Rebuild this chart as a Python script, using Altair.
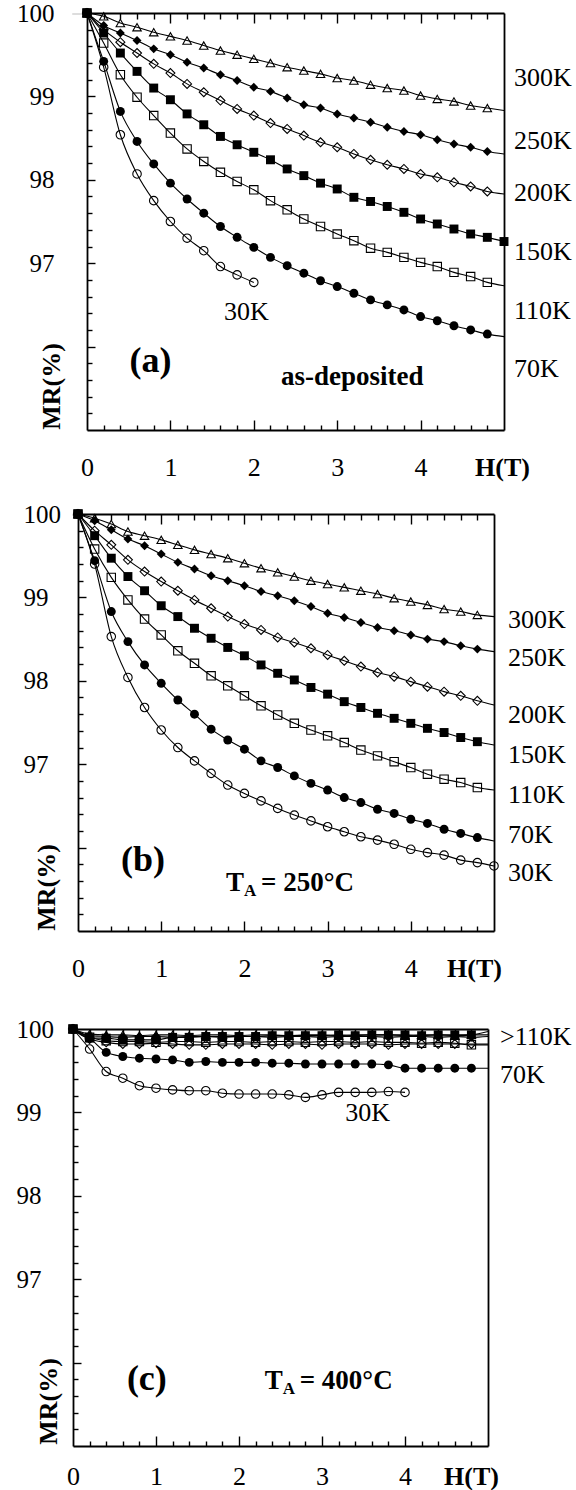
import altair as alt
import pandas as pd

SERIF = "Liberation Serif"

# ---------------- data ----------------
H25 = [0.0, 0.2, 0.4, 0.6, 0.8, 1.0, 1.2, 1.4, 1.6, 1.8, 2.0, 2.2, 2.4,
       2.6, 2.8, 3.0, 3.2, 3.4, 3.6, 3.8, 4.0, 4.2, 4.4, 4.6, 4.8]
H26 = H25 + [5.0]
H11 = H25[:11]
H21 = H25[:21]
H_END = 5.0

SERIES = ["300K", "250K", "200K", "110K", "150K", "70K", "30K"]

# panel (a) as-deposited
A_300 = [100, 99.96, 99.88, 99.83, 99.77, 99.72, 99.67, 99.61, 99.55, 99.50, 99.45, 99.40, 99.35,
         99.31, 99.27, 99.22, 99.19, 99.14, 99.10, 99.07, 99.01, 98.97, 98.94, 98.89, 98.86]
A_250 = [100, 99.85, 99.76, 99.67, 99.57, 99.50, 99.41, 99.34, 99.26, 99.19, 99.11, 99.06, 98.98,
         98.90, 98.86, 98.79, 98.74, 98.69, 98.63, 98.58, 98.54, 98.48, 98.43, 98.39, 98.34]
A_200 = [100, 99.80, 99.65, 99.52, 99.39, 99.28, 99.15, 99.05, 98.95, 98.85, 98.77, 98.68, 98.61,
         98.53, 98.45, 98.39, 98.31, 98.24, 98.18, 98.13, 98.07, 98.03, 97.97, 97.92, 97.86]
A_150 = [100, 99.76, 99.52, 99.30, 99.10, 98.96, 98.79, 98.66, 98.52, 98.42, 98.33, 98.24, 98.13,
         98.05, 97.96, 97.89, 97.79, 97.74, 97.68, 97.61, 97.53, 97.47, 97.41, 97.35, 97.31, 97.26]
A_110 = [100, 99.64, 99.26, 98.99, 98.77, 98.56, 98.37, 98.22, 98.09, 97.98, 97.88, 97.75, 97.64,
         97.53, 97.44, 97.35, 97.27, 97.18, 97.13, 97.07, 97.01, 96.96, 96.89, 96.84, 96.77]
A_70 = [100, 99.42, 98.82, 98.46, 98.19, 97.96, 97.77, 97.60, 97.44, 97.31, 97.19, 97.07, 96.97,
        96.88, 96.79, 96.72, 96.64, 96.56, 96.50, 96.44, 96.36, 96.31, 96.25, 96.20, 96.15]
A_30 = [100, 99.35, 98.54, 98.07, 97.75, 97.50, 97.30, 97.15, 96.96, 96.86, 96.77]
A_ENDS = {"300K": 98.83, "250K": 98.31, "200K": 97.83, "150K": None,
          "110K": 96.73, "70K": 96.12, "30K": None}

# panel (b) T_A = 250 C
B_300 = [100, 99.95, 99.88, 99.79, 99.74, 99.69, 99.63, 99.57, 99.52, 99.47, 99.41, 99.35, 99.30,
         99.25, 99.20, 99.16, 99.12, 99.08, 99.04, 98.99, 98.95, 98.91, 98.86, 98.83, 98.79]
B_250 = [100, 99.92, 99.81, 99.70, 99.62, 99.52, 99.42, 99.34, 99.26, 99.20, 99.14, 99.07, 99.02,
         98.96, 98.89, 98.81, 98.76, 98.70, 98.64, 98.60, 98.55, 98.50, 98.47, 98.42, 98.38]
B_200 = [100, 99.80, 99.63, 99.45, 99.31, 99.19, 99.08, 98.97, 98.87, 98.77, 98.68, 98.61, 98.52,
         98.46, 98.39, 98.31, 98.24, 98.17, 98.10, 98.05, 97.99, 97.93, 97.87, 97.82, 97.76]
B_150 = [100, 99.74, 99.47, 99.25, 99.08, 98.90, 98.77, 98.63, 98.51, 98.40, 98.30, 98.19, 98.09,
         98.01, 97.92, 97.84, 97.75, 97.68, 97.61, 97.55, 97.49, 97.43, 97.38, 97.32, 97.27]
B_110 = [100, 99.58, 99.24, 98.97, 98.74, 98.55, 98.36, 98.21, 98.06, 97.94, 97.82, 97.70, 97.59,
         97.49, 97.41, 97.34, 97.26, 97.17, 97.10, 97.03, 96.96, 96.88, 96.82, 96.78, 96.72]
B_70 = [100, 99.44, 98.83, 98.47, 98.19, 97.97, 97.77, 97.60, 97.42, 97.29, 97.18, 97.04, 96.96,
        96.86, 96.77, 96.69, 96.60, 96.54, 96.46, 96.41, 96.34, 96.29, 96.22, 96.17, 96.12]
B_30 = [100, 99.40, 98.53, 98.04, 97.68, 97.41, 97.20, 97.04, 96.89, 96.75, 96.65, 96.56, 96.47,
        96.39, 96.32, 96.25, 96.19, 96.13, 96.09, 96.04, 95.98, 95.94, 95.91, 95.85, 95.82, 95.78]
B_ENDS = {"300K": 98.77, "250K": 98.35, "200K": 97.71, "150K": 97.23,
          "110K": 96.69, "70K": 96.08, "30K": None}

# panel (c) T_A = 400 C
C_300 = [100, 99.94, 99.93, 99.93, 99.92, 99.93, 99.93, 99.92, 99.93, 99.93, 99.92, 99.93, 99.93,
         99.92, 99.93, 99.93, 99.92, 99.93, 99.93, 99.93, 99.92, 99.93, 99.93, 99.92, 99.93]
C_250 = [100, 99.92, 99.91, 99.90, 99.91, 99.91, 99.90, 99.91, 99.91, 99.90, 99.91, 99.91, 99.90,
         99.91, 99.91, 99.90, 99.91, 99.91, 99.91, 99.90, 99.91, 99.91, 99.90, 99.91, 99.90]
C_200 = [100, 99.88, 99.84, 99.82, 99.82, 99.83, 99.82, 99.81, 99.81, 99.82, 99.82, 99.82, 99.81,
         99.82, 99.82, 99.81, 99.82, 99.82, 99.82, 99.81, 99.82, 99.82, 99.82, 99.82, 99.82]
C_150 = [100, 99.89, 99.89, 99.87, 99.87, 99.87, 99.90, 99.90, 99.91, 99.91, 99.91, 99.91, 99.92,
         99.92, 99.92, 99.92, 99.93, 99.92, 99.93, 99.93, 99.93, 99.92, 99.93, 99.93, 99.93]
C_110 = [100, 99.90, 99.86, 99.85, 99.85, 99.84, 99.85, 99.85, 99.84, 99.85, 99.85, 99.84, 99.85,
         99.85, 99.84, 99.85, 99.85, 99.84, 99.85, 99.84, 99.84, 99.83, 99.84, 99.83, 99.81]
C_70 = [100, 99.89, 99.72, 99.67, 99.65, 99.64, 99.63, 99.60, 99.61, 99.60, 99.60, 99.60, 99.59,
        99.59, 99.58, 99.58, 99.58, 99.58, 99.58, 99.57, 99.53, 99.53, 99.53, 99.53, 99.53]
C_30 = [100, 99.76, 99.49, 99.41, 99.32, 99.29, 99.27, 99.26, 99.26, 99.23, 99.22, 99.22, 99.22,
        99.21, 99.18, 99.21, 99.24, 99.24, 99.24, 99.25, 99.24]
C_ENDS = {"300K": 99.97, "250K": 99.91, "200K": 99.82, "150K": 99.93,
          "110K": 99.81, "70K": 99.53, "30K": None}

# right-hand temperature labels
A_RLAB = ["300K", "250K", "200K", "150K", "110K", "70K"]
A_RLAB_Y = [99.22, 98.47, 97.84, 97.13, 96.43, 95.73]
B_RLAB = ["300K", "250K", "200K", "150K", "110K", "70K", "30K"]
B_RLAB_Y = [98.73, 98.27, 97.59, 97.11, 96.63, 96.15, 95.69]
C_RLAB = [">110K", "70K"]
C_RLAB_Y = [99.91, 99.45]

# in-plot annotations: (text, H, MR)
A_NOTES = [("30K", 1.91, 96.41), ("(a)", 0.76, 95.83), ("as-deposited", 3.18, 95.63)]
B_NOTES = [("(b)", 0.78, 95.85)]
C_NOTES = [("30K", 3.55, 98.99), ("(c)", 0.89, 95.80)]
B_TA = ("250°C", 1.78, 95.57)
C_TA = ("400°C", 2.31, 95.78)

X_LABELS = [0, 1, 2, 3, 4]
Y_LABELS = [97, 98, 99, 100]
X_MINOR = [0.2, 0.4, 0.6, 0.8, 1.2, 1.4, 1.6, 1.8, 2.2, 2.4, 2.6, 2.8,
           3.2, 3.4, 3.6, 3.8, 4.2, 4.4, 4.6, 4.8]
X_MAJOR = [1, 2, 3, 4]
Y_MINOR = [95.2, 95.4, 95.6, 95.8, 96.2, 96.4, 96.6, 96.8, 97.2, 97.4, 97.6, 97.8,
           98.2, 98.4, 98.6, 98.8, 99.2, 99.4, 99.6, 99.8]
Y_MAJOR = [96, 97, 98, 99]

MARKERS = {
    "300K": ("triangle-up", False, 72),
    "250K": ("diamond", True, 80),
    "200K": ("diamond", False, 80),
    "150K": ("square", True, 80),
    "110K": ("square", False, 70),
    "70K": ("circle", True, 80),
    "30K": ("circle", False, 72),
}

HH = 417
XS = alt.Scale(domain=[0, 5], nice=False, zero=False)
YS = alt.Scale(domain=[95, 100], nice=False, zero=False)
FRAME = dict(domainColor="black", domainWidth=1.8)


def tick_axis(orient, values, size, offset, domain=False):
    extra = FRAME if domain else {}
    return alt.Axis(orient=orient, values=values, labels=False, domain=domain, grid=False,
                    ticks=True, tickSize=size, tickWidth=1.4, tickColor="black",
                    offset=offset, title=None, **extra)


def frame_axis(orient):
    return alt.Axis(orient=orient, values=[95], labels=False, ticks=False, grid=False,
                    domain=True, title=None, **FRAME)


def label_x_axis(p):
    extra = {"minExtent": p["xmin"]} if p.get("xmin") else {}
    return alt.Axis(orient="bottom", values=X_LABELS, ticks=False, tickSize=0, domain=True,
                    grid=False, labelFont=SERIF, labelFontSize=26, labelColor="black",
                    labelPadding=p["xpad"], labelBaseline="middle", labelFlush=False,
                    labelOverlap=False, title="H(T)", titleFont=SERIF, titleFontSize=26,
                    titleFontWeight="bold", titleColor="black", titleX=p["htx"],
                    titleY=p["xpad"], titleAlign="center", titleBaseline="middle",
                    **FRAME, **extra)


def label_y_axis(p):
    return alt.Axis(orient="left", values=Y_LABELS, ticks=False, tickSize=0, domain=True,
                    grid=False, labelFont=SERIF, labelFontSize=25, labelColor="black",
                    labelPadding=p["ypad"], labelAlign=p["yalign"], labelBaseline="middle",
                    labelFlush=False, labelOverlap=False, title="MR(%)", titleFont=SERIF,
                    titleFontSize=26, titleFontWeight="bold", titleColor="black",
                    titleAngle=270, titleX=p["mrx"], titleY=p["mry"], titleAlign="center",
                    titleBaseline="middle", minExtent=p["ymin"], **FRAME)


def panel(series_data, ends, rlab, rlab_y, notes, ta, p):
    W = p["w"]
    line_rows, pt_frames = [], {}
    for s in SERIES:
        hs, ms = series_data[s]
        rows = [{"series": s, "H": h, "MR": m} for h, m in zip(hs, ms)]
        pt_frames[s] = pd.DataFrame(rows)
        line_rows += rows
        if ends[s] is not None:
            line_rows.append({"series": s, "H": H_END, "MR": ends[s]})
    line_df = pd.DataFrame(line_rows)

    x_axes = [tick_axis("top", X_MINOR, 5, -HH), tick_axis("top", X_MAJOR, 10, -HH),
              tick_axis("bottom", X_MINOR, 6, -HH, domain=True),
              tick_axis("bottom", X_MAJOR, 10, -HH)]
    y_axes = [tick_axis("right", Y_MINOR, 5, -W), tick_axis("right", Y_MAJOR, 8, -W),
              frame_axis("right")]

    layers = [
        alt.Chart(line_df).mark_line(color="black", strokeWidth=1.1, interpolate="monotone")
        .encode(x=alt.X("H:Q", scale=XS, axis=label_x_axis(p)),
                y=alt.Y("MR:Q", scale=YS, axis=label_y_axis(p)),
                detail="series:N")
    ]
    for i, s in enumerate(SERIES):
        shape, filled, size = MARKERS[s]
        xa = x_axes[i] if i < len(x_axes) else None
        ya = y_axes[i] if i < len(y_axes) else None
        mk = dict(shape=shape, filled=filled, size=size, color="black", opacity=1,
                  strokeWidth=1.1)
        layers.append(
            alt.Chart(pt_frames[s]).mark_point(**mk)
            .encode(x=alt.X("H:Q", scale=XS, axis=xa), y=alt.Y("MR:Q", scale=YS, axis=ya))
        )

    rl_df = pd.DataFrame({"label": rlab, "MR": rlab_y})
    layers.append(
        alt.Chart(rl_df).mark_text(font=SERIF, fontSize=26, color="black", align="left",
                                   baseline="middle", dx=p["rdx"])
        .encode(x=alt.X(datum=H_END, type="quantitative", scale=XS, axis=None),
                y=alt.Y("MR:Q", scale=YS, axis=None), text="label:N")
    )

    for txt, hx, my in notes:
        if txt.startswith("("):
            fs, fw = 36, "bold"
        elif txt == "as-deposited":
            fs, fw = 27, "bold"
        else:
            fs, fw = 26, "normal"
        layers.append(
            alt.Chart(pd.DataFrame({"t": [txt], "H": [hx], "MR": [my]}))
            .mark_text(font=SERIF, fontSize=fs, fontWeight=fw, color="black",
                       align="center", baseline="middle")
            .encode(x=alt.X("H:Q", scale=XS, axis=None), y=alt.Y("MR:Q", scale=YS, axis=None),
                    text="t:N")
        )

    if ta is not None:
        val, hx, my = ta
        ta_df = pd.DataFrame({"H": [hx], "MR": [my]})
        for txt, fs, dx, dy in [("T", 27, 0, 0), ("A", 17, 18, 8), ("= " + val, 27, 35, 0)]:
            layers.append(
                alt.Chart(ta_df).mark_text(font=SERIF, fontSize=fs, fontWeight="bold",
                                           color="black", align="left", baseline="middle",
                                           dx=dx, dy=dy, text=txt)
                .encode(x=alt.X("H:Q", scale=XS, axis=None),
                        y=alt.Y("MR:Q", scale=YS, axis=None))
            )

    body = (alt.layer(*layers)
            .resolve_axis(x="independent", y="independent")
            .properties(width=W, height=HH))
    spacer = (alt.Chart(pd.DataFrame({"v": [0]})).mark_point(opacity=0)
              .encode(x=alt.value(0), y=alt.value(0))
              .properties(width=p["shift"], height=1))
    return alt.hconcat(spacer, body, spacing=0, bounds="flush")


pa = panel({"300K": (H25, A_300), "250K": (H25, A_250), "200K": (H25, A_200),
            "150K": (H26, A_150), "110K": (H25, A_110), "70K": (H25, A_70),
            "30K": (H11, A_30)}, A_ENDS, A_RLAB, A_RLAB_Y, A_NOTES, None,
           dict(w=417, xpad=37, htx=415, ypad=33, yalign="right", mrx=-36, mry=373,
                rdx=10, ymin=75, shift=15))
pb = panel({"300K": (H25, B_300), "250K": (H25, B_250), "200K": (H25, B_200),
            "150K": (H25, B_150), "110K": (H25, B_110), "70K": (H25, B_70),
            "30K": (H26, B_30)}, B_ENDS, B_RLAB, B_RLAB_Y, B_NOTES, B_TA,
           dict(w=416, xpad=37, htx=396, ypad=55, yalign="left", mrx=-32, mry=373,
                rdx=14, xmin=64, ymin=66, shift=6))
pc = panel({"300K": (H25, C_300), "250K": (H25, C_250), "200K": (H25, C_200),
            "150K": (H25, C_150), "110K": (H25, C_110), "70K": (H25, C_70),
            "30K": (H21, C_30)}, C_ENDS, C_RLAB, C_RLAB_Y, C_NOTES, C_TA,
           dict(w=415, xpad=30, htx=398, ypad=57, yalign="left", mrx=-25, mry=372,
                rdx=12, ymin=61, shift=1))

chart = (alt.vconcat(pa, pb, pc, spacing=20)
         .properties(padding={"left": 11, "top": 0, "right": 2, "bottom": 2})
         .configure_view(strokeWidth=0)
         .configure(font=SERIF, background="white"))

chart.save("out.html", embed_options={"renderer": "svg", "actions": False})
